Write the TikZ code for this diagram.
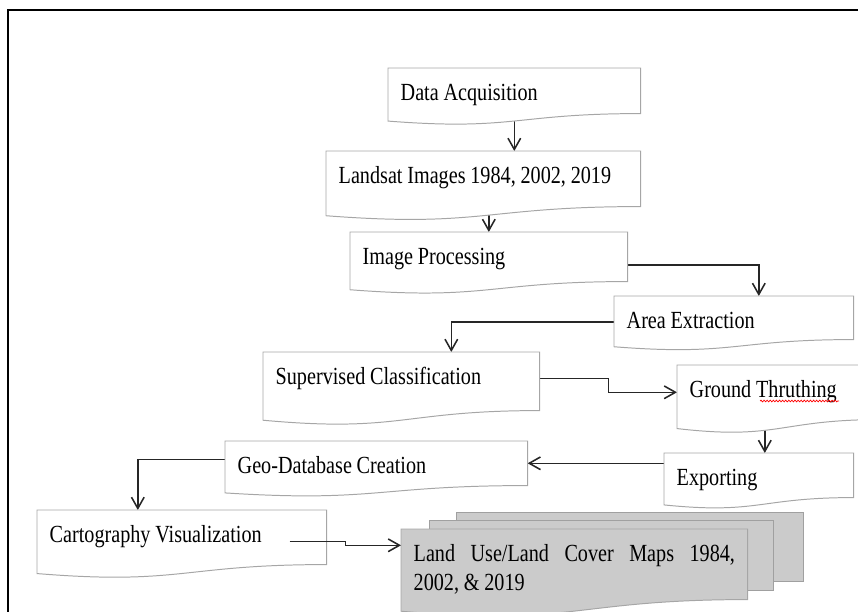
\documentclass[tikz,border=0pt]{standalone}
\usepackage{fontspec}
\setmainfont{Liberation Serif}[FakeStretch=0.82]
\usetikzlibrary{calc}
\usetikzlibrary{arrows.meta}
\usetikzlibrary{decorations.pathmorphing}

\definecolor{boxgray}{HTML}{A6A6A6}
\definecolor{linkgray}{HTML}{262626}
\definecolor{sheetfill}{HTML}{CBCBCB}
\definecolor{sheetline}{HTML}{A0A0A0}

\pgfdeclarelayer{links}
\pgfdeclarelayer{sheets}
\pgfsetlayers{links,sheets,main}

\tikzset{
  docbox/.style 2 args={anchor=north west, inner xsep=0.31cm, inner ysep=0pt,
    text width={#1cm-0.62cm}, align=left, text height=22.8pt, text depth={#2cm-22.8pt},
    font=\fontsize{17.5}{20.6}\selectfont,
    execute at begin node={\spaceskip=3.4pt plus 12pt minus 1pt\relax}},
  boxline/.style={draw=boxgray, line width=0.7pt},
  sheet/.style={draw=sheetline, fill=sheetfill, line width=0.7pt},
  link/.style={draw=linkgray, line width=1.1pt, -{Straight Barb[length=8pt,width=9pt]}},
  frameline/.style={line width=1.3pt},
}

% wavy document outline round a node
\newcommand{\docoutline}[2][white]{%
  \begin{pgfonlayer}{sheets}
  \draw[boxline, fill=#1] let \p1=(#2.north west), \p2=(#2.south east) in
    (\p1) -- (\x2,\y1) -- (\p2)
    .. controls ({(\x1+\x2)/2},\y2) and ({(\x1+\x2)/2},{\y2-0.381*(\y1-\y2)}) .. (\x1,{\y2-0.1646*(\y1-\y2)}) -- cycle;
  \end{pgfonlayer}}

\begin{document}
\begin{tikzpicture}[x=0.025cm, y=-0.025cm]
    \path[use as bounding box] (0, 0) rectangle (858, 612);
    \draw[frameline] (8, 620) -- (8, 10) -- (870, 10);

    \node[docbox={6.3}{1.125}] (da) at (388, 68) {Data Acquisition};
    \node[docbox={7.85}{1.375}] (ls) at (326, 151) {Landsat Images 1984, 2002, 2019};
    \node[docbox={6.925}{1.225}] (ip) at (350, 232) {Image Processing};
    \node[docbox={5.975}{1.075}] (ae) at (614, 296) {Area Extraction};
    \node[docbox={6.9}{1.45}] (sc) at (263, 352) {Supervised Classification};
    \node[docbox={5.075}{1.35}] (gt) at (677, 365) {Ground Thruthing};
    \node[docbox={4.725}{1.1}] (ex) at (664, 453) {Exporting};
    \node[docbox={7.55}{1.1}] (gd) at (225, 441) {Geo-Database Creation};
    \node[docbox={7.225}{1.35}] (cv) at (37, 510) {Cartography Visualization};
    \node[docbox={8.65}{1.75}, align=justify] (mp) at (401, 529) {Land Use/Land Cover Maps 1984, 2002, \& 2019};

    \foreach \b in {da, ls, ip, ae, sc, gt, ex, gd, cv}
        \docoutline{\b};

    % stacked map sheets
    \begin{pgfonlayer}{sheets}
    \draw[sheet] ($(mp.north west)+(55,-17)$) rectangle ($(mp.north east)+(56,52)$);
    \draw[sheet] ($(mp.north west)+(28,-9)$) rectangle ($(mp.north east)+(26,61)$);
    \end{pgfonlayer}
    \docoutline[sheetfill]{mp}

    \draw[red, line width=0.5pt, decorate, decoration={snake, amplitude=0.6pt, segment length=2.2pt}]
        ($(gt.north west)+(83,36)$) -- ($(gt.north west)+(162,36)$);

    \begin{pgfonlayer}{links}
    \draw[link] (da.south) -- (da.south |- ls.north);
    \draw[link] (ip.north |- ls.south) -- (ip.north);
    \draw[link] ($(ip.east)+(0,8)$) -| ($(ae.north)+(25,0)$);
    \draw[link] ($(ae.west)+(0,4)$) -| ($(sc.north)+(50,0)$);
    \draw[link] ($(sc.east)+(0,-3)$) -- ++(69,0) |- (gt.west);
    \draw[link] ($(ex.north |- gt.south)+(6,0)$) -- ($(ex.north)+(6,0)$);
    \draw[link] (ex.west |- gd.east) -- (gd.east);
    \draw[link] ($(gd.west)+(0,-4)$) -| ($(cv.north)+(-44,0)$);
    \end{pgfonlayer}
    \draw[link] ($(cv.east)+(-37,4)$) -- ++(56,0) |- ($(mp.west)+(0,-19)$);

\end{tikzpicture}
\end{document}
